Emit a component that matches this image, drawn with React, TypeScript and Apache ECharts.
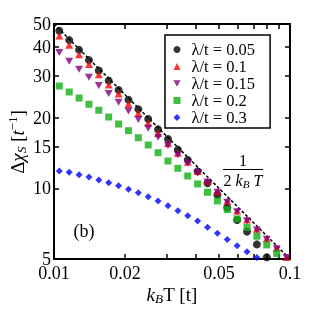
import React, { useEffect, useRef } from "react";
import * as echarts from "echarts";

const FONT = '"Liberation Serif", "Times New Roman", serif';

// temperatures k_B T [t]
const temperature = [
  0.01053, 0.0116, 0.01277, 0.01406, 0.01548, 0.01705, 0.01878, 0.02068,
  0.02277, 0.02507, 0.02761, 0.03041, 0.03348, 0.03687, 0.0406, 0.04471,
  0.04924, 0.05422, 0.05971, 0.06575, 0.0724, 0.07973, 0.0878, 0.09668,
];

// Δχ_S [1/t] for each λ/t
const chiL005 = [46.8, 42.7, 38.8, 35.1, 31.7, 28.7, 26.2, 23.8, 21.7, 19.7, 17.8, 16.2, 14.6, 13.2, 11.8, 10.5, 9.38, 8.28, 7.33, 6.54, 5.77, 5.09];
const chiL01 = [44.5, 40.6, 37.0, 33.6, 30.4, 27.5, 25.2, 22.8, 20.8, 18.9, 17.1, 15.5, 14.1, 12.9, 11.78, 10.7, 9.68, 8.8, 8.01, 7.32, 6.7, 6.09, 5.55, 5.08];
const chiL015 = [37.8, 34.7, 32.1, 29.7, 27.4, 25.3, 23.2, 21.3, 19.6, 18.0, 16.5, 15.2, 13.9, 12.8, 11.65, 10.62, 9.61, 8.71, 7.95, 7.28, 6.65, 6.07, 5.53, 5.08];
const chiL02 = [27.23, 25.68, 24.21, 22.77, 21.47, 20.1, 18.76, 17.58, 16.41, 15.28, 14.17, 13.06, 12.16, 11.28, 10.43, 9.62, 8.83, 8.11, 7.41, 6.81, 6.25, 5.74, 5.28];
const chiL03 = [11.84, 11.69, 11.42, 11.17, 10.85, 10.56, 10.25, 9.9, 9.57, 9.21, 8.83, 8.43, 8.03, 7.63, 7.26, 6.82, 6.43, 6.06, 5.7, 5.37, 5.08];

const seriesNames = ["λ/t = 0.05", "λ/t = 0.1", "λ/t = 0.15", "λ/t = 0.2", "λ/t = 0.3"];

// asymptote 1/(2 k_B T)
const asymptoteT = [0.01, 0.1];
const asymptoteChi = [50, 5];

const xTickValues = [0.01, 0.02, 0.03, 0.04, 0.05, 0.06, 0.07, 0.08, 0.09, 0.1];
const xLabelValues = [0.01, 0.02, 0.05, 0.1];
const yTickValues = [5, 10, 15, 20, 30, 40, 50];
const yLabelValues = [5, 10, 15, 20, 30, 40, 50];

export default function App() {
  const ref = useRef<HTMLDivElement>(null);
  useEffect(() => {
    const chart = echarts.init(ref.current!, null, { renderer: "svg" });
    const pair = (ys: number[]) => ys.map((y, i) => [temperature[i], y]);
    const axisLine = { lineStyle: { color: "#000", width: 2 } };
    const tickStyle = { lineStyle: { color: "#000", width: 1.5 } };
    const labelFont = { fontFamily: FONT, fontSize: 18, color: "#000" };
    const xBase = {
      type: "log",
      logBase: 10,
      min: 0.01,
      max: 0.1,
      splitLine: { show: false },
      minorTick: { show: false },
      axisLine,
      axisTick: { inside: true, length: 5, customValues: xTickValues, ...tickStyle },
    };
    const yBase = {
      type: "log",
      logBase: 10,
      min: 5,
      max: 50,
      splitLine: { show: false },
      minorTick: { show: false },
      axisLine,
      axisTick: { inside: true, length: 5, customValues: yTickValues, ...tickStyle },
    };
    const sub = (size: number, lh: number) => ({ fontFamily: FONT, fontSize: size * 0.7, fontStyle: "italic", verticalAlign: "bottom", lineHeight: lh * 0.55 });
    chart.setOption({
      animation: false,
      grid: { left: 54, top: 24, width: 236, height: 235, containLabel: false },
      xAxis: [
        {
          ...xBase,
          position: "bottom",
          axisLabel: {
            ...labelFont,
            margin: 5,
            customValues: xLabelValues,
            formatter: (v: number) => String(+v.toPrecision(3)),
          },
        },
        { ...xBase, position: "top", axisLabel: { show: false } },
      ],
      yAxis: [
        {
          ...yBase,
          position: "left",
          axisLabel: {
            ...labelFont,
            margin: 3,
            customValues: yLabelValues,
            formatter: (v: number) => String(Math.round(v)),
          },
        },
        { ...yBase, position: "right", axisLabel: { show: false } },
      ],
      legend: {
        orient: "vertical",
        left: 165,
        top: 35,
        padding: [6, 15, 2, 8.5],
        itemGap: 0,
        itemWidth: 7,
        itemHeight: 7,
        borderColor: "#000",
        borderWidth: 1.5,
        backgroundColor: "#fff",
        textStyle: { fontFamily: FONT, fontSize: 16.5, color: "#000", lineHeight: 17, padding: [0, 0, 0, 6] },
        data: seriesNames,
      },
      series: [
        {
          type: "line",
          data: asymptoteT.map((t, i) => [t, asymptoteChi[i]]),
          showSymbol: false,
          symbol: "none",
          silent: true,
          lineStyle: { color: "#000", width: 1.5, type: [3, 2] },
          z: 1,
        },
        { type: "scatter", name: seriesNames[0], data: pair(chiL005), symbol: "circle", symbolSize: 8, itemStyle: { color: "#000" } },
        { type: "scatter", name: seriesNames[1], data: pair(chiL01), symbol: "triangle", symbolSize: [8, 7], itemStyle: { color: "#ff0000" } },
        { type: "scatter", name: seriesNames[2], data: pair(chiL015), symbol: "path://M0,0L10,0L5,9Z", symbolSize: [8, 7], itemStyle: { color: "#800080" } },
        { type: "scatter", name: seriesNames[3], data: pair(chiL02), symbol: "rect", symbolSize: 7, itemStyle: { color: "#10b010" } },
        { type: "scatter", name: seriesNames[4], data: pair(chiL03), symbol: "diamond", symbolSize: [7, 7], itemStyle: { color: "#0000ff" } },
      ],
      graphic: [
        {
          type: "text",
          x: 172,
          y: 294,
          style: {
            text: "{i|k}{s|B}{n|T [t]}",
            align: "center",
            verticalAlign: "middle",
            fill: "#000",
            rich: {
              i: { fontFamily: FONT, fontSize: 19, fontStyle: "italic", lineHeight: 22 },
              s: sub(19, 22),
              n: { fontFamily: FONT, fontSize: 19, lineHeight: 22 },
            },
          },
        },
        {
          type: "text",
          x: 17,
          y: 142,
          rotation: Math.PI / 2,
          style: {
            text: "{n|Δ}{i|χ}{s|S}{n| [}{i|t}{p|−1}{n|]}",
            align: "center",
            verticalAlign: "middle",
            fill: "#000",
            rich: {
              i: { fontFamily: FONT, fontSize: 19, fontStyle: "italic", lineHeight: 22 },
              s: sub(19, 22),
              p: { fontFamily: FONT, fontSize: 13, verticalAlign: "top", lineHeight: 12 },
              n: { fontFamily: FONT, fontSize: 19, lineHeight: 22 },
            },
          },
        },
        {
          type: "text",
          x: 243,
          y: 160,
          style: { text: "1", fontFamily: FONT, fontSize: 16, fill: "#000", align: "center", verticalAlign: "middle" },
        },
        {
          type: "line",
          shape: { x1: 223, y1: 169.5, x2: 263, y2: 169.5 },
          style: { stroke: "#000", lineWidth: 1 },
        },
        {
          type: "text",
          x: 243,
          y: 180,
          style: {
            text: "{n|2 }{i|k}{s|B}{i| T}",
            align: "center",
            verticalAlign: "middle",
            fill: "#000",
            rich: {
              i: { fontFamily: FONT, fontSize: 16, fontStyle: "italic", lineHeight: 18 },
              s: sub(16, 18),
              n: { fontFamily: FONT, fontSize: 16, lineHeight: 18 },
            },
          },
        },
        {
          type: "text",
          x: 84,
          y: 231,
          style: { text: "(b)", fontFamily: FONT, fontSize: 18, fill: "#000", align: "center", verticalAlign: "middle" },
        },
      ],
    });
    return () => chart.dispose();
  }, []);
  return <div ref={ref} style={{ position: "fixed", left: 0, top: 0, width: 311, height: 317 }} />;
}
